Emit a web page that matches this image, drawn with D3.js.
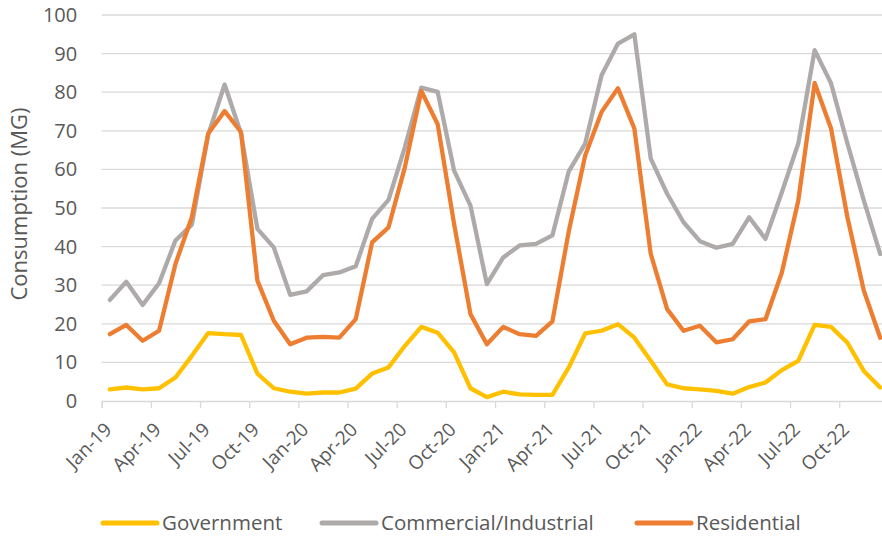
<!DOCTYPE html>
<html>
<head>
<meta charset="utf-8">
<script src="https://cdn.jsdelivr.net/npm/d3@7"></script>
<style>
  body { margin: 0; background: #fff; }
  text { font-family: "Open Sans", sans-serif; fill: #595959; }
</style>
</head>
<body>
<svg width="882" height="538"></svg>
<script>
// monthly consumption, Jan-19 .. Dec-22
var tickLabels = ["Jan-19","Apr-19","Jul-19","Oct-19","Jan-20","Apr-20","Jul-20","Oct-20",
                  "Jan-21","Apr-21","Jul-21","Oct-21","Jan-22","Apr-22","Jul-22","Oct-22"];

var government = [3.0, 3.5, 3.0, 3.3, 6.1, 11.7, 17.6, 17.3, 17.1, 7.1, 3.3, 2.4,
                  1.9, 2.2, 2.2, 3.2, 7.1, 8.7, 14.3, 19.2, 17.7, 12.6, 3.3, 1.0,
                  2.4, 1.7, 1.6, 1.6, 8.7, 17.5, 18.2, 19.9, 16.4, 10.4, 4.3, 3.3,
                  3.0, 2.6, 1.9, 3.6, 4.8, 8.0, 10.4, 19.7, 19.2, 15.1, 7.8, 3.5];
var commercial = [26.2, 30.9, 24.9, 30.5, 41.6, 45.7, 69.0, 82.0, 69.3, 44.6, 39.8, 27.5,
                  28.4, 32.6, 33.3, 34.9, 47.2, 52.1, 65.8, 81.2, 80.1, 59.7, 50.6, 30.3,
                  37.2, 40.3, 40.7, 42.9, 59.5, 66.7, 84.4, 92.6, 95.0, 62.8, 53.7, 46.3,
                  41.4, 39.7, 40.7, 47.6, 42.0, 54.1, 66.7, 90.9, 82.3, 66.7, 52.0, 38.1];
var residential = [17.3, 19.7, 15.6, 18.2, 35.5, 47.6, 69.3, 75.1, 69.7, 31.2, 20.8, 14.7,
                   16.4, 16.6, 16.4, 21.2, 41.1, 45.0, 60.6, 80.3, 71.7, 45.9, 22.5, 14.7,
                   19.2, 17.3, 16.9, 20.6, 44.0, 63.6, 74.9, 81.0, 70.6, 38.1, 23.8, 18.2,
                   19.5, 15.2, 16.0, 20.6, 21.2, 33.3, 51.9, 82.4, 70.6, 47.6, 28.6, 16.4];

var series = [
  {name: "Government", values: government, color: "#FFC000"},
  {name: "Commercial/Industrial", values: commercial, color: "#ADAAA9"},
  {name: "Residential", values: residential, color: "#ED7D31"}
];

var svg = d3.select("svg");

// category edges: 0..48, points sit at i + 0.5
var x = d3.scaleLinear().domain([0, 48]).range([101.7, 888.4]);
var y = d3.scaleLinear().domain([0, 100]).range([401, 15]);

// gridlines
svg.append("g")
    .selectAll("line")
    .data(y.ticks(10).filter(function(d) { return d > 0; }))
    .enter().append("line")
      .attr("x1", x(0)).attr("x2", 882)
      .attr("y1", function(d) { return y(d); })
      .attr("y2", function(d) { return y(d); })
      .attr("stroke", "#d9d9d9")
      .attr("stroke-width", 1.3);

// y axis labels
var yAxis = svg.append("g")
    .attr("transform", "translate(" + x(0) + ",0)")
    .call(d3.axisLeft(y).tickValues(d3.range(0, 101, 10)).tickSize(0).tickPadding(24.5));
yAxis.select(".domain").remove();
yAxis.selectAll("text")
    .style("font-size", "20px")
    .attr("fill", "#595959");

// x axis
var xAxis = svg.append("g")
    .attr("transform", "translate(0," + y(0) + ")")
    .call(d3.axisBottom(x)
      .tickValues(d3.range(0, 48, 3))
      .tickSize(7)
      .tickFormat(function(d, i) { return tickLabels[i]; }));
xAxis.select(".domain").attr("stroke", "#d9d9d9").attr("stroke-width", 1.3);
xAxis.selectAll(".tick line").attr("stroke", "#d9d9d9").attr("stroke-width", 1.3);
xAxis.selectAll("text")
    .style("font-size", "19px")
    .attr("fill", "#595959")
    .attr("text-anchor", "end")
    .attr("x", 6)
    .attr("y", 25)
    .attr("dy", "0.35em")
    .attr("transform", "rotate(-45 6 25)");

// y title
svg.append("text")
    .attr("transform", "translate(27,204) rotate(-90)")
    .attr("text-anchor", "middle")
    .style("font-size", "22px")
    .text("Consumption (MG)");

// lines
var line = d3.line()
    .x(function(d, i) { return x(i + 0.5); })
    .y(function(d) { return y(d); });

svg.append("g")
    .selectAll("path")
    .data(series)
    .enter().append("path")
      .attr("d", function(d) { return line(d.values); })
      .attr("fill", "none")
      .attr("stroke", function(d) { return d.color; })
      .attr("stroke-width", 4.3)
      .attr("stroke-linejoin", "round")
      .attr("stroke-linecap", "round");

// legend
var legendX = [103, 322, 637];
var legend = svg.append("g")
    .selectAll("g")
    .data(series)
    .enter().append("g")
      .attr("transform", function(d, i) { return "translate(" + legendX[i] + ",523)"; });
legend.append("line")
    .attr("x1", 0).attr("x2", 54)
    .attr("stroke", function(d) { return d.color; })
    .attr("stroke-width", 5)
    .attr("stroke-linecap", "round");
legend.append("text")
    .attr("x", 59)
    .attr("dy", "0.35em")
    .style("font-size", "20.5px")
    .text(function(d) { return d.name; });
</script>
</body>
</html>
